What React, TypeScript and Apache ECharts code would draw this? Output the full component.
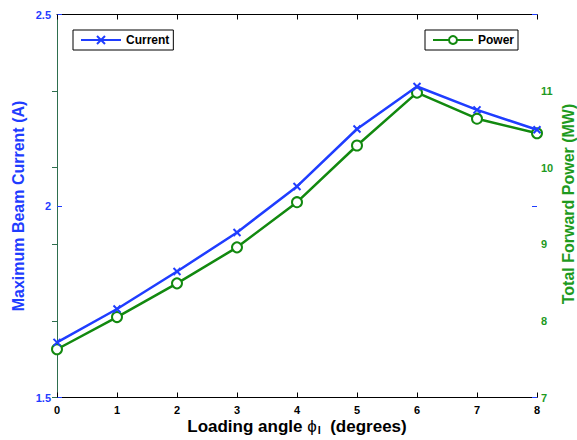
import React, { useEffect, useRef } from "react";
import * as echarts from "echarts";

// Loading angle (degrees)
const loadingAngle = [0, 1, 2, 3, 4, 5, 6, 7, 8];
// Maximum beam current (A)
const beamCurrent = [1.644, 1.731, 1.829, 1.931, 2.051, 2.201, 2.312, 2.251, 2.199];
// Total forward power (MW)
const forwardPower = [7.63, 8.05, 8.49, 8.96, 9.55, 10.29, 10.98, 10.64, 10.45];

const BLUE = "#1f3dff";
const GREEN = "#12890f";
const GREEN_TEXT = "#1e9a1e";
const GREEN_AXIS = "#2e6e4e";
const FONT = "Liberation Sans, Arial, Helvetica, sans-serif";

const CROSS = "path://M0,0L10,10M0,10L10,0";

export default function App() {
  const ref = useRef<HTMLDivElement>(null);

  useEffect(() => {
    if (!ref.current) return;
    const chart = echarts.init(ref.current, undefined, { renderer: "svg" });

    const tickLabel = (color: string) => ({
      color,
      fontFamily: FONT,
      fontWeight: "bold" as const,
      fontSize: 11,
    });

    const legendBox = {
      orient: "horizontal",
      borderColor: "#000",
      borderWidth: 1,
      padding: [4, 4, 4, 7],
      itemWidth: 40,
      itemHeight: 10,
      itemGap: 4,
      textStyle: { fontFamily: FONT, fontWeight: "bold", fontSize: 12, color: "#000" },
    };

    chart.setOption({
      animation: false,
      backgroundColor: "#ffffff",
      grid: { left: 57, right: 40, top: 14.5, bottom: 42.5, containLabel: false },
      legend: [
        { ...legendBox, data: [{ name: "Current" }], left: 73, top: 30 },
        { ...legendBox, data: [{ name: "Power" }], left: 425, top: 30 },
      ],
      xAxis: [
        {
          type: "value",
          position: "bottom",
          min: 0,
          max: 8,
          interval: 1,
          axisLine: { show: true, lineStyle: { color: "#000", width: 1 } },
          axisTick: { show: true, inside: true, length: 5, lineStyle: { color: "#000" } },
          axisLabel: { ...tickLabel("#000"), margin: 7 },
          splitLine: { show: false },
        },
        {
          type: "value",
          position: "top",
          min: 0,
          max: 8,
          interval: 1,
          axisLine: { show: true, lineStyle: { color: "#000", width: 1 } },
          axisTick: { show: true, inside: true, length: 5, lineStyle: { color: "#000" } },
          axisLabel: { show: false },
          splitLine: { show: false },
        },
      ],
      yAxis: [
        {
          type: "value",
          position: "left",
          min: 1.5,
          max: 2.5,
          interval: 0.5,
          axisLine: { show: true, lineStyle: { color: BLUE, width: 1 } },
          axisTick: { show: true, inside: true, length: 5, lineStyle: { color: BLUE } },
          axisLabel: { ...tickLabel(BLUE), margin: 6 },
          splitLine: { show: false },
        },
        {
          type: "value",
          position: "right",
          min: 7,
          max: 12,
          interval: 1,
          axisLine: { show: true, lineStyle: { color: GREEN_AXIS, width: 1 } },
          axisTick: { show: true, inside: true, length: 5, lineStyle: { color: GREEN_AXIS } },
          axisLabel: { ...tickLabel(GREEN_TEXT), margin: 4, showMaxLabel: false },
          splitLine: { show: false },
        },
        {
          // mirrored current-axis ticks on the right edge
          type: "value",
          position: "right",
          min: 1.5,
          max: 2.5,
          interval: 0.5,
          axisLine: { show: false },
          axisTick: { show: true, inside: true, length: 5, lineStyle: { color: BLUE } },
          axisLabel: { show: false },
          splitLine: { show: false },
        },
      ],
      series: [
        {
          name: "Current",
          type: "line",
          xAxisIndex: 0,
          yAxisIndex: 0,
          data: loadingAngle.map((a, i) => [a, beamCurrent[i]]),
          symbol: CROSS,
          symbolSize: 7,
          showAllSymbol: true,
          lineStyle: { color: BLUE, width: 2.5 },
          itemStyle: { color: BLUE, borderColor: BLUE, borderWidth: 2 },
          z: 3,
        },
        {
          name: "Power",
          type: "line",
          xAxisIndex: 0,
          yAxisIndex: 1,
          data: loadingAngle.map((a, i) => [a, forwardPower[i]]),
          symbol: "emptyCircle",
          symbolSize: 10,
          showAllSymbol: true,
          lineStyle: { color: GREEN, width: 2.5 },
          itemStyle: { color: GREEN, borderColor: GREEN, borderWidth: 2.5 },
          z: 2,
        },
      ],
      graphic: [
        {
          type: "text",
          x: 18,
          y: 206,
          rotation: Math.PI / 2,
          style: {
            text: "Maximum Beam Current (A)",
            fill: BLUE,
            font: `bold 16px ${FONT}`,
            textAlign: "center",
            textVerticalAlign: "middle",
          },
        },
        {
          type: "text",
          x: 568,
          y: 204,
          rotation: Math.PI / 2,
          style: {
            text: "Total Forward Power (MW)",
            fill: GREEN_TEXT,
            font: `bold 16px ${FONT}`,
            textAlign: "center",
            textVerticalAlign: "middle",
          },
        },
        {
          type: "text",
          x: 297,
          y: 426,
          style: {
            text: "Loading angle {phi|ϕ}{sub|l}  (degrees)",
            fill: "#000",
            font: `bold 17px ${FONT}`,
            textAlign: "center",
            textVerticalAlign: "middle",
            rich: {
              phi: { fontFamily: FONT, fontSize: 17, fontWeight: "normal", fill: "#000" },
              sub: {
                fontFamily: FONT,
                fontSize: 11,
                fontWeight: "bold",
                fill: "#000",
                padding: [8, 0, 0, 1],
              },
            },
          },
        },
      ],
    });

    return () => chart.dispose();
  }, []);

  return (
    <div
      ref={ref}
      style={{ position: "fixed", left: 0, top: 0, width: 577, height: 440, background: "#fff" }}
    />
  );
}
